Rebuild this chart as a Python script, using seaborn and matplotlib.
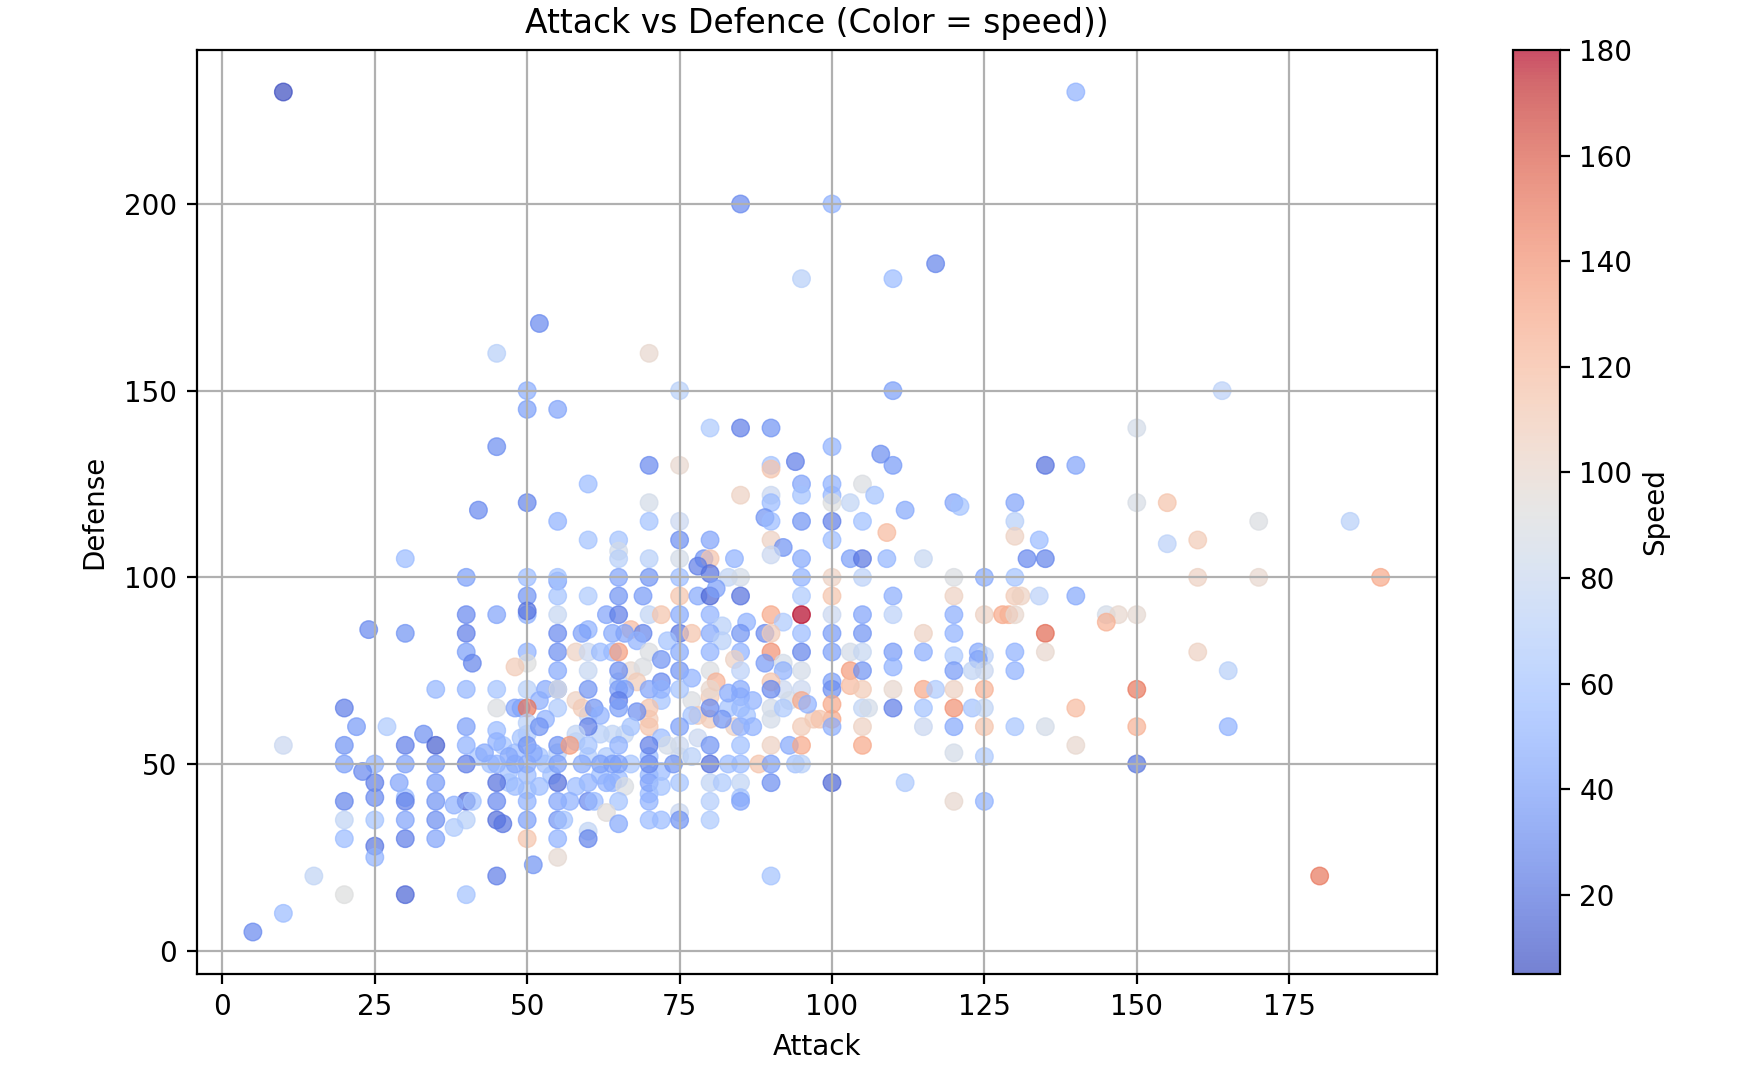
import pandas as pd
import matplotlib
matplotlib.use("Agg")
import matplotlib.pyplot as plt
import seaborn as sns

# Values, one line per band of defense
# (first line = the pale points in the crowded middle)
attack = [
    47, 50, 52, 46, 49, 54, 44, 50, 48, 53, 50, 55, 42, 47, 62, 65, 58, 63, 67, 70, 70, 66, 72, 60, 70, 77, 80, 85, 83, 84, 87, 90, 97, 95, 92, 78, 80, 86, 100, 98, 75, 78, 70, 72, 65, 60, 58, 67, 62, 75,
    10, 140, 85, 100, 95, 110, 117, 52, 45, 70, 75, 110, 164, 50, 50, 55, 80, 85, 90, 150,
    45, 100, 70, 75, 90, 90, 94, 110, 108, 135, 140, 60, 95, 100, 105, 85, 90, 95, 100, 103, 107, 70, 50, 90, 100, 120, 121, 130, 150, 155,
    42, 112, 89, 55, 70, 75, 90, 95, 100, 105, 130, 170, 185, 109, 130, 155, 60, 65, 75, 80, 90, 100, 134, 160, 92, 65, 90, 30, 65, 70, 75, 79, 80, 84, 95, 103, 105, 109, 115, 132, 135, 78, 80, 40, 50, 55, 55, 65, 70, 75, 83, 85, 95, 100, 105, 120, 125, 130, 160, 170, 190,
    50, 55, 60, 65, 69, 75, 78, 80, 81, 85, 95, 100, 110, 120, 130, 131, 134, 140, 40, 45, 50, 50, 55, 63, 65, 70, 72, 75, 80, 90, 95, 100, 105, 110, 120, 125, 128, 129, 130, 145, 147, 150, 145, 86, 92, 82, 24, 60, 67, 30, 40, 55, 59, 64, 66, 69, 75, 77, 80, 85, 89, 90, 95, 100, 105, 115, 120, 135,
    73, 68, 82, 40, 50, 55, 58, 60, 62, 64, 65, 70, 75, 80, 85, 90, 95, 100, 103, 105, 110, 115, 120, 124, 125, 130, 135, 160, 72, 84, 124, 41, 50, 89, 92, 48, 69, 110, 55, 60, 65, 75, 80, 85, 92, 95, 103, 105, 120, 123, 125, 130, 165,
    68, 72, 81, 90, 100, 77, 35, 40, 45, 50, 53, 55, 55, 60, 65, 66, 70, 72, 75, 80, 85, 83, 90, 100, 103, 105, 110, 115, 117, 120, 125, 150, 52, 65, 93, 95, 96, 100, 20, 45, 48, 49, 50, 55, 59, 61, 65, 70, 80, 85, 90, 92, 105, 106, 110, 115, 120, 123, 125, 140,
    68, 62, 77, 53, 82, 50, 22, 27, 40, 52, 60, 67, 70, 75, 85, 87, 95, 100, 105, 115, 120, 125, 130, 135, 150, 165, 45, 33, 58, 64, 72, 45, 10, 20, 30, 35, 40, 50, 55, 57, 60, 65, 70, 73, 80, 85, 90, 93, 95, 105, 140,
    43, 51, 120, 47, 77, 125, 20, 25, 30, 35, 40, 45, 48, 50, 55, 59, 62, 64, 65, 70, 74, 80, 83, 85, 88, 90, 94, 95, 150, 150, 23, 25, 29, 35, 45, 55, 60, 63, 64, 70, 75, 80, 82, 85, 90, 100, 112, 48, 52, 58, 66, 72, 25, 30, 85, 20, 30, 35, 40, 41, 45, 50, 55, 57, 60, 61, 65, 70, 80, 85, 120, 125,
    38, 63, 75, 20, 25, 30, 35, 40, 45, 50, 55, 56, 70, 72, 75, 80, 65, 46, 38, 60, 20, 30, 35, 50, 55, 60, 25, 25, 55, 51, 15, 45, 90, 180, 20, 30, 40, 10, 5,
]
defense = [
    48, 47, 52, 55, 57, 47, 50, 58, 53, 50, 43, 53, 52, 45, 47, 46, 56, 52, 50, 47, 52, 58, 48, 52, 42, 67, 62, 68, 65, 60, 67, 62, 62, 70, 70, 63, 68, 63, 62, 62, 52, 57, 62, 67, 72, 63, 67, 75, 58, 55,
    230, 230, 200, 200, 180, 180, 184, 168, 160, 160, 150, 150, 150, 150, 145, 145, 140, 140, 140, 140,
    135, 135, 130, 130, 130, 129, 131, 130, 133, 130, 130, 125, 125, 125, 125, 122, 122, 122, 122, 120, 122, 120, 120, 120, 120, 120, 119, 120, 120, 120,
    118, 118, 116, 115, 115, 115, 115, 115, 115, 115, 115, 115, 115, 112, 111, 109, 110, 110, 110, 110, 110, 110, 110, 110, 108, 107, 106, 105, 105, 105, 105, 105, 105, 105, 105, 105, 105, 105, 105, 105, 105, 103, 101, 100, 100, 99, 100, 100, 100, 100, 100, 100, 100, 100, 100, 100, 100, 100, 100, 100, 100,
    95, 95, 95, 95, 95, 95, 95, 95, 97, 95, 95, 95, 95, 95, 95, 95, 95, 95, 90, 90, 90, 91, 90, 90, 90, 90, 90, 90, 90, 90, 90, 90, 90, 90, 90, 90, 90, 90, 90, 90, 90, 90, 88, 88, 88, 87, 86, 86, 86, 85, 85, 85, 85, 85, 85, 85, 85, 85, 85, 85, 85, 85, 85, 85, 85, 85, 85, 85,
    83, 83, 83, 80, 80, 80, 80, 80, 80, 80, 80, 80, 80, 80, 80, 80, 80, 80, 80, 80, 80, 80, 79, 80, 79, 80, 80, 80, 78, 78, 78, 77, 77, 77, 77, 76, 76, 76, 75, 75, 75, 75, 75, 75, 75, 75, 75, 75, 75, 75, 75, 75, 75,
    72, 72, 72, 72, 72, 73, 70, 70, 70, 70, 70, 70, 70, 70, 70, 70, 70, 70, 70, 70, 70, 69, 70, 70, 71, 70, 70, 70, 70, 70, 70, 70, 67, 67, 67, 67, 66, 66, 65, 65, 65, 65, 65, 65, 65, 65, 65, 65, 65, 65, 65, 65, 65, 65, 65, 65, 65, 65, 65, 65,
    64, 63, 63, 62, 62, 61, 60, 60, 60, 60, 60, 60, 60, 60, 60, 60, 60, 60, 60, 60, 60, 60, 60, 60, 60, 60, 59, 58, 58, 58, 57, 56, 55, 55, 55, 55, 55, 55, 55, 55, 55, 55, 55, 55, 55, 55, 55, 55, 55, 55, 55,
    53, 53, 53, 52, 52, 52, 50, 50, 50, 50, 50, 50, 50, 50, 50, 50, 50, 50, 50, 50, 50, 50, 50, 50, 50, 50, 50, 50, 50, 50, 48, 45, 45, 45, 45, 45, 45, 45, 45, 45, 45, 45, 45, 45, 45, 45, 45, 44, 44, 44, 44, 44, 41, 41, 41, 40, 40, 40, 40, 40, 40, 40, 40, 40, 40, 40, 40, 40, 40, 40, 40, 40,
    39, 37, 37, 35, 35, 35, 35, 35, 35, 35, 35, 35, 35, 35, 35, 35, 34, 34, 33, 32, 30, 30, 30, 30, 30, 30, 28, 25, 25, 23, 20, 20, 20, 20, 15, 15, 15, 10, 5,
]
speed = [
    60, 55, 60, 62, 60, 60, 58, 65, 55, 58, 60, 70, 62, 62, 58, 55, 70, 65, 62, 52, 55, 78, 55, 68, 55, 90, 110, 50, 60, 105, 50, 85, 110, 80, 80, 110, 110, 60, 130, 115, 85, 80, 110, 60, 70, 75, 105, 100, 70, 80,
    5, 50, 30, 50, 70, 55, 28, 30, 70, 100, 70, 40, 72, 48, 40, 42, 65, 25, 35, 85,
    32, 50, 30, 100, 60, 115, 25, 38, 32, 20, 42, 55, 42, 50, 90, 105, 80, 60, 52, 75, 60, 85, 28, 55, 92, 42, 60, 42, 88, 115,
    30, 45, 35, 50, 60, 80, 55, 35, 25, 58, 70, 90, 70, 120, 105, 72, 60, 60, 32, 42, 105, 55, 55, 110, 35, 85, 80, 55, 70, 70, 85, 35, 115, 50, 45, 40, 22, 52, 78, 30, 28, 25, 20, 40, 55, 42, 60, 42, 35, 55, 75, 85, 50, 105, 72, 90, 45, 60, 105, 100, 130,
    35, 60, 65, 35, 38, 115, 45, 15, 40, 20, 65, 115, 48, 105, 110, 105, 72, 45, 30, 42, 50, 20, 78, 42, 25, 75, 115, 45, 50, 130, 180, 80, 42, 72, 48, 105, 130, 125, 100, 85, 100, 98, 125, 50, 65, 70, 30, 50, 120, 35, 25, 30, 40, 45, 42, 28, 22, 115, 45, 35, 30, 110, 55, 38, 35, 105, 50, 155,
    60, 50, 70, 40, 50, 32, 105, 80, 55, 55, 135, 90, 45, 50, 50, 140, 28, 40, 85, 78, 38, 48, 65, 45, 72, 50, 100, 105, 35, 105, 42, 28, 92, 38, 85, 110, 90, 50, 45, 78, 32, 35, 90, 72, 50, 85, 135, 35, 38, 75, 80, 50, 70,
    110, 30, 125, 115, 40, 50, 52, 52, 60, 70, 45, 35, 90, 35, 38, 40, 42, 50, 60, 100, 45, 45, 30, 32, 120, 110, 100, 130, 65, 105, 125, 150, 48, 25, 85, 130, 50, 130, 25, 90, 42, 42, 150, 65, 110, 35, 40, 115, 30, 55, 85, 65, 75, 85, 25, 60, 140, 60, 75, 120,
    32, 50, 60, 50, 35, 70, 38, 65, 40, 35, 25, 60, 115, 40, 50, 50, 110, 48, 105, 80, 45, 115, 62, 85, 125, 50, 55, 33, 75, 75, 55, 50, 80, 35, 25, 12, 50, 35, 35, 135, 60, 50, 25, 85, 35, 58, 105, 45, 130, 130, 100,
    45, 45, 85, 45, 70, 65, 40, 50, 40, 35, 25, 50, 45, 45, 40, 45, 40, 40, 40, 30, 35, 18, 55, 55, 115, 40, 60, 70, 95, 25, 30, 25, 42, 38, 20, 18, 50, 50, 50, 42, 60, 75, 65, 75, 32, 15, 65, 55, 55, 55, 90, 60, 30, 55, 60, 28, 25, 35, 15, 60, 30, 50, 42, 50, 30, 55, 60, 50, 68, 42, 100, 50,
    50, 95, 80, 75, 60, 42, 32, 70, 18, 40, 35, 60, 55, 55, 35, 65, 45, 22, 65, 75, 55, 25, 42, 115, 50, 28, 22, 50, 98, 35, 75, 25, 60, 150, 92, 15, 60, 55, 30,
]

df = pd.DataFrame({"Attack": attack, "Defense": defense, "Speed": speed})

fig = plt.figure(figsize=(1746 / 200, 1090 / 200), dpi=200)
ax = fig.add_axes([196.5 / 1746, 1 - 974 / 1090, (1437 - 196.5) / 1746, (974 - 50) / 1090])

sns.scatterplot(
    data=df, x="Attack", y="Defense", hue="Speed", palette="coolwarm",
    hue_norm=(5, 180), s=40, alpha=0.7, edgecolor="face", linewidth=0.5,
    legend=False, ax=ax,
)
ax.set_xlim(-4.25, 199.25)
ax.set_ylim(-6.25, 241.25)
ax.set_xticks([0, 25, 50, 75, 100, 125, 150, 175])
ax.set_yticks([0, 50, 100, 150, 200])
ax.set_title("Attack vs Defence (Color = speed))", fontsize=11.9)
ax.set_xlabel("Attack")
ax.set_ylabel("Defense", labelpad=5.5)
ax.grid(True)

# Colorbar for speed
cax = fig.add_axes([1513 / 1746, 1 - 974 / 1090, 47 / 1746, (974 - 50) / 1090])
sm = plt.cm.ScalarMappable(cmap="coolwarm", norm=plt.Normalize(5, 180))
cbar = fig.colorbar(sm, cax=cax, alpha=0.7)
cbar.set_ticks([20, 40, 60, 80, 100, 120, 140, 160, 180])
cbar.set_label("Speed", labelpad=3)

fig.savefig("out.png", dpi=200)
